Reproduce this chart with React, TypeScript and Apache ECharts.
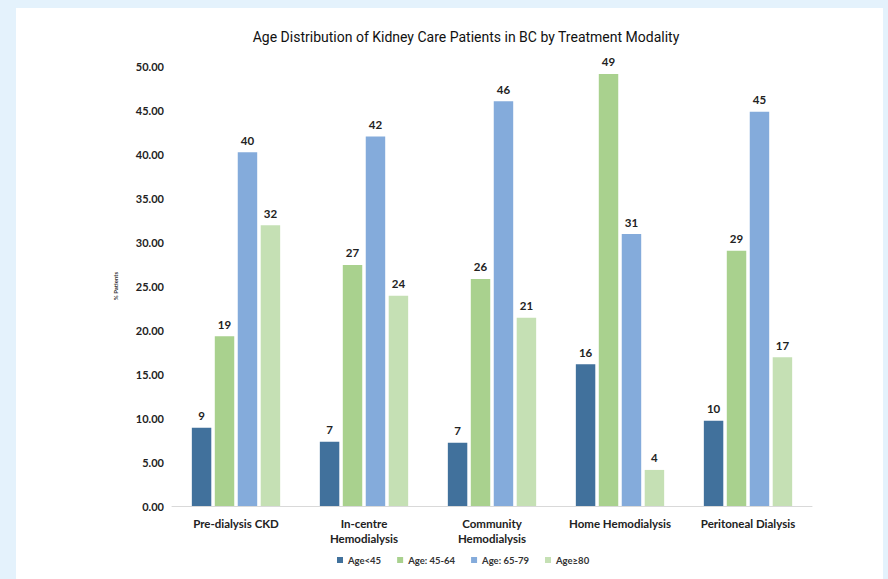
import React, { useEffect, useRef } from "react";
import * as echarts from "echarts";

const categories = ["Pre-dialysis CKD", "In-centre\nHemodialysis", "Community\nHemodialysis", "Home Hemodialysis", "Peritoneal Dialysis"];
const seriesNames = ["Age<45", "Age: 45-64", "Age: 65-79", "Age≥80"];
const ageUnder45 = [8.9, 7.3, 7.2, 16.1, 9.7];
const age45to64 = [19.3, 27.4, 25.8, 49.1, 29.0];
const age65to79 = [40.2, 42.0, 46.0, 30.9, 44.8];
const age80plus = [31.9, 23.9, 21.4, 4.1, 16.9];
const colors = ["#41719c", "#a9d18e", "#84abdb", "#c5e0b4"];

export default function App() {
  const ref = useRef<HTMLDivElement>(null);
  useEffect(() => {
    const chart = echarts.init(ref.current!, null, { renderer: "svg" });
    const data = [ageUnder45, age45to64, age65to79, age80plus];
    chart.setOption({
      animation: false,
      backgroundColor: "#e4f2fc",
      graphic: [
        { type: "rect", z: -10, shape: { x: 16, y: 8, width: 867, height: 571 }, style: { fill: "#ffffff" } },
      ],
      title: {
        text: "Age Distribution of Kidney Care Patients in BC by Treatment Modality",
        left: 461,
        textAlign: "center",
        top: 25,
        textStyle: { fontFamily: "Roboto", fontSize: 14, fontWeight: "normal", color: "#111" },
      },
      legend: {
        bottom: 9,
        left: 332,
        itemWidth: 6,
        itemHeight: 6,
        itemGap: 16,
        icon: "rect",
        textStyle: { fontFamily: "Lato", fontSize: 9.5, fontWeight: "bold", color: "#333" },
        data: seriesNames,
      },
      grid: { left: 172, right: 76, top: 66, bottom: 73, containLabel: false },
      xAxis: {
        type: "category",
        data: categories,
        axisLine: { lineStyle: { color: "#d9d9d9" } },
        axisTick: { show: false },
        axisLabel: { interval: 0, fontFamily: "Lato", fontSize: 11.5, fontWeight: "bold", color: "#222", margin: 10, lineHeight: 15 },
      },
      yAxis: {
        type: "value",
        min: 0,
        max: 50,
        interval: 5,
        name: "% Patients",
        nameLocation: "middle",
        nameGap: 54,
        nameRotate: 90,
        nameTextStyle: { fontFamily: "Lato", fontSize: 6, fontWeight: "bold", color: "#333" },
        splitLine: { show: false },
        axisLine: { show: false },
        axisTick: { show: false },
        axisLabel: {
          fontFamily: "Lato",
          fontSize: 11,
          fontWeight: "bold",
          color: "#222",
          margin: 8,
          formatter: (v: number) => v.toFixed(2),
        },
      },
      series: seriesNames.map((name, i) => ({
        name,
        type: "bar",
        data: data[i],
        itemStyle: { color: colors[i] },
        barGap: "18%",
        barCategoryGap: "31%",
        label: {
          show: true,
          position: "top",
          distance: 6,
          fontFamily: "Lato",
          fontSize: 11.5,
          fontWeight: "bold",
          color: "#222",
          formatter: (p: any) => String(Math.round(p.value)),
        },
      })),
    });
    return () => chart.dispose();
  }, []);
  return <div ref={ref} style={{ position: "absolute", left: 0, top: 0, width: 888, height: 579 }} />;
}
